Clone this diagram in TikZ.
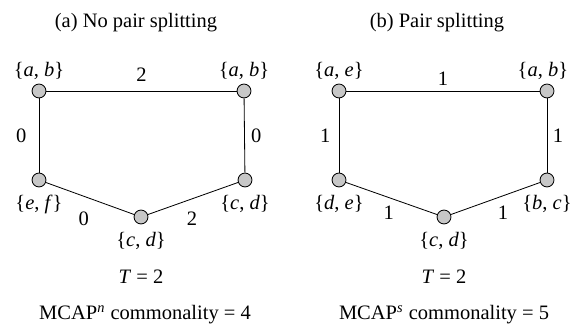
\documentclass[tikz,border=0pt]{standalone}
\usepackage{fontspec}
\setmainfont{Liberation Serif}
\newcommand{\pr}[2]{\{\textit{#1}, \textit{#2}\}}
\begin{document}
\begin{tikzpicture}[x=0.488pt, y=-0.488pt,
    vtx/.style={circle, draw, fill=black!22, minimum size=6.8pt, inner sep=0pt},
    wt/.style={inner sep=1pt},
    every label/.style={inner sep=1pt},
    up/.style={label={[label distance=0.5pt]above:#1}},
    dn/.style={label={[label distance=2.5pt]below:#1}},
]
\useasboundingbox (0,0) rectangle (574,327);

% (a) no pair splitting
\node (ta) at (136,23) {(a) No pair splitting};
\node[vtx, up=\pr{a}{b}] (a1) at (39,91) {};
\node[vtx, up=\pr{a}{b}] (a2) at (244,91) {};
\node[vtx, dn=\pr{e}{f}] (a3) at (39,180) {};
\node[vtx, dn=\pr{c}{d}] (a4) at (245,180) {};
\node[vtx, dn=\pr{c}{d}] (a5) at (141,217) {};
\draw (a1) -- node[wt, above=3.5pt] {2} (a2);
\draw (a1) -- node[wt, left=5pt] {0} (a3);
\draw (a2) -- node[wt, right=2pt] {0} (a4);
\draw (a3) -- node[wt, pos=0.43, below=6.5pt] {0} (a5);
\draw (a5) -- node[wt, pos=0.49, below=5.3pt] {2} (a4);
\node (tta) at (141,277) {\textit{T} = 2};
\node (ca) at (145,315) {MCAP\textsuperscript{\textit{n}} commonality = 4};

% (b) pair splitting
\node (tb) at (437,23) {(b) Pair splitting};
\node[vtx, up=\pr{a}{e}] (b1) at (339,91) {};
\node[vtx, label={[label distance=0.5pt, xshift=-2pt]above:\pr{a}{b}}] (b2) at (547,91) {};
\node[vtx, dn=\pr{d}{e}] (b3) at (339,180) {};
\node[vtx, dn=\pr{b}{c}] (b4) at (547,180) {};
\node[vtx, dn=\pr{c}{d}] (b5) at (444,217) {};
\draw (b1) -- node[wt, above=1.5pt] {1} (b2);
\draw (b1) -- node[wt, left=3pt] {1} (b3);
\draw (b2) -- node[wt, right=1.7pt] {1} (b4);
\draw (b3) -- node[wt, pos=0.47, below=3pt] {1} (b5);
\draw (b5) -- node[wt, pos=0.585, below=4pt] {1} (b4);
\node (ttb) at (444,277) {\textit{T} = 2};
\node (cb) at (444,315) {MCAP\textsuperscript{\textit{s}} commonality = 5};
\end{tikzpicture}
\end{document}
